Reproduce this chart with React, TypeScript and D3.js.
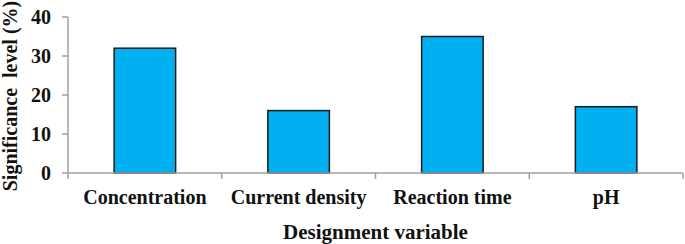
import React from 'react'
import * as d3 from 'd3'

const categories = ['Concentration', 'Current density', 'Reaction time', 'pH']
const values = [32, 16, 35, 17]
const yTicks = [0, 10, 20, 30, 40]

const W = 685
const H = 244
const margin = {top: 17, right: 2, bottom: 71, left: 68}
const font = '"Liberation Serif", "Times New Roman", serif'

const App = () => {
  const plotH = H - margin.top - margin.bottom
  const x = d3.scaleBand()
    .domain(categories)
    .range([margin.left, W - margin.right])
    .paddingInner(0.6)
    .paddingOuter(0.3)
  const y = d3.scaleLinear()
    .domain([0, 40])
    .range([margin.top + plotH, margin.top])

  const step = x.step()
  const left = margin.left
  const right = W - margin.right
  // boundaries between categories
  const bounds = d3.range(categories.length + 1).map(i => left + i * step)

  const bars = categories.map((c, i) => (
    <rect key={c} x={x(c)} y={y(values[i])} width={x.bandwidth()} height={y(0) - y(values[i])}
      fill="#00b0f0" stroke="#1a1a1a" strokeWidth={1.5}/>
  ))

  return (
    <svg width={W} height={H} style={{position: 'absolute', left: 0, top: 0}} fontFamily={font} fontWeight="bold" fill="#111">
      <g>{bars}</g>
      {/* y axis */}
      <line x1={left} x2={left} y1={y(40)} y2={y(0)} stroke="#a0a0a0" strokeWidth={1.5}/>
      {yTicks.map(t => (
        <g key={t}>
          <line x1={left - 6} x2={left} y1={y(t)} y2={y(t)} stroke="#a0a0a0" strokeWidth={1.5}/>
          <text x={left - 17} y={y(t)} dy="0.36em" textAnchor="end" fontSize={20}>{t}</text>
        </g>
      ))}
      {/* x axis */}
      <line x1={left} x2={bounds[bounds.length - 1]} y1={y(0)} y2={y(0)} stroke="#a0a0a0" strokeWidth={1.5}/>
      {bounds.map((b, i) => (
        <line key={i} x1={b} x2={b} y1={y(0)} y2={y(0) + 6} stroke="#a0a0a0" strokeWidth={1.5}/>
      ))}
      {categories.map(c => (
        <text key={c} x={(x(c) || 0) + x.bandwidth() / 2} y={204} textAnchor="middle" fontSize={20}>{c}</text>
      ))}
      <text x={(left + right) / 2} y={239} textAnchor="middle" fontSize={21}>Designment variable</text>
      <text transform="translate(16.5,96) rotate(-90)" textAnchor="middle" fontSize={20} style={{whiteSpace: 'pre'}}>Significance  level (%)</text>
    </svg>
  )
}

export default App
